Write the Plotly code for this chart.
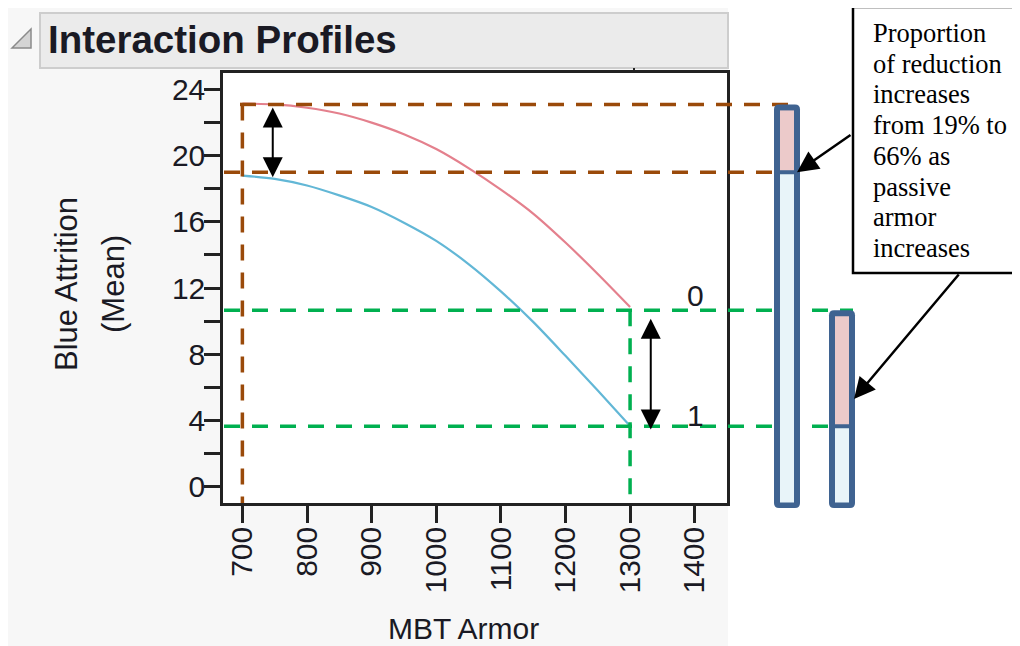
import plotly.graph_objects as go

# ---------------- data ----------------
armor = [700, 750, 800, 850, 900, 950, 1000, 1050, 1100, 1150, 1200, 1250, 1300]
attr_passive0 = [23.15, 23.1, 22.9, 22.55, 22.0, 21.3, 20.4, 19.25, 17.95, 16.5, 14.75, 12.85, 10.85]
attr_passive1 = [18.8, 18.6, 18.2, 17.6, 16.9, 15.95, 14.85, 13.45, 11.8, 9.95, 7.9, 5.8, 3.65]
series_labels = ["0", "1"]
label_pos_y = [11.55, 4.3]
label_pos_x = 1401

x_ticks = [700, 800, 900, 1000, 1100, 1200, 1300, 1400]
y_ticks = [0, 2, 4, 6, 8, 10, 12, 14, 16, 18, 20, 22, 24]
y_ticktext = [str(v) if v % 4 == 0 else "" for v in y_ticks]

brown_x = 700
brown_levels = [23.1, 19.0]
green_x = 1300
green_levels = [10.65, 3.64]

arrow_x = [747, 1332]
arrow_top = [22.92, 10.14]
arrow_bot = [18.6, 3.36]

callout_lines = ["Proportion", "of reduction", "increases", "from 19% to",
                 "66% as", "passive", "armor", "increases"]

title_text = "Interaction Profiles"
x_title = "MBT Armor"
y_title = ["Blue Attrition", "(Mean)"]

# ---------------- geometry helpers (reference pixel coords) ----------------
OFF = 8                      # page body margin offset
W, H = 1020, 646             # reference picture size
FW, FH = W - OFF, H - OFF    # figure size
L, R, T, B = 223, 727, 73, 503
YMIN, YMAX = -1, 25
XMIN, XMAX = 670, 1450
ppu_y = (B - T) / (YMAX - YMIN)


def px_x(p):
    return (p - L) / (R - L)


def px_y(p):
    return (B - p) / (B - T)


def py_data(p):
    return YMIN + (B - p) / ppu_y


SANS = "Liberation Sans, Arial, sans-serif"
SERIF = "Liberation Serif, Times New Roman, serif"
AXC = "#222222"
TXT = "#1a1a24"
BROWN = "#9a4a0a"
GREEN = "#00b050"
BARB = "#3f6391"

fig = go.Figure()
fig.add_trace(go.Scatter(x=armor, y=attr_passive0, mode="lines",
                         line=dict(color="#e4808d", width=2.2, shape="spline", smoothing=0.8),
                         name=series_labels[0], showlegend=False, hoverinfo="skip"))
fig.add_trace(go.Scatter(x=armor, y=attr_passive1, mode="lines",
                         line=dict(color="#62b7d6", width=2.2, shape="spline", smoothing=0.8),
                         name=series_labels[1], showlegend=False, hoverinfo="skip"))

shapes = []
# white area right of the gray panel
shapes.append(dict(type="rect", xref="paper", yref="paper", layer="below",
                   x0=px_x(728), x1=px_x(W + 4), y0=px_y(H + 4), y1=px_y(-4),
                   fillcolor="white", line=dict(width=0)))
# header bar
shapes.append(dict(type="rect", xref="paper", yref="paper", layer="below",
                   x0=px_x(40), x1=px_x(728), y0=px_y(68), y1=px_y(13),
                   fillcolor="#ebebeb", line=dict(color="#cdcdcd", width=2)))
# disclosure triangle
tri = "M {},{} L {},{} L {},{} Z".format(px_x(12), px_y(48), px_x(31), px_y(29), px_x(31), px_y(48))
shapes.append(dict(type="path", xref="paper", yref="paper", path=tri,
                   fillcolor="#d4d4d4", line=dict(color="#8a8a8a", width=1.5)))
# small tick on top frame
shapes.append(dict(type="line", xref="paper", yref="paper",
                   x0=px_x(634), x1=px_x(634), y0=px_y(73), y1=px_y(68),
                   line=dict(color=AXC, width=2)))

dash = "16px,12px"
# brown guide lines
shapes.append(dict(type="line", xref="paper", yref="y", x0=px_x(240), x1=px_x(797),
                   y0=brown_levels[0], y1=brown_levels[0], line=dict(color=BROWN, width=3.5, dash=dash)))
shapes.append(dict(type="line", xref="paper", yref="y", x0=px_x(224), x1=px_x(797),
                   y0=brown_levels[1], y1=brown_levels[1], line=dict(color=BROWN, width=3.5, dash=dash)))
shapes.append(dict(type="line", xref="x", yref="y", x0=brown_x, x1=brown_x,
                   y0=brown_levels[0], y1=YMIN, line=dict(color=BROWN, width=3.5, dash=dash)))
# green guide lines
for lv in green_levels:
    shapes.append(dict(type="line", xref="paper", yref="y", x0=px_x(224), x1=px_x(853),
                       y0=lv, y1=lv, line=dict(color=GREEN, width=3.5, dash=dash)))
shapes.append(dict(type="line", xref="x", yref="y", x0=green_x, x1=green_x,
                   y0=green_levels[0], y1=YMIN, line=dict(color=GREEN, width=3.5, dash=dash)))


def rounded(x0, x1, y0, y1, rx, ry, top=True, bottom=True):
    """Path for a rectangle (y0 bottom, y1 top) with optional rounded top/bottom corners."""
    parts = []
    if bottom:
        parts.append("M {},{} L {},{} Q {},{} {},{}".format(x0 + rx, y0, x1 - rx, y0, x1, y0, x1, y0 + ry))
    else:
        parts.append("M {},{} L {},{}".format(x0, y0, x1, y0))
    if top:
        parts.append("L {},{} Q {},{} {},{} L {},{} Q {},{} {},{}".format(
            x1, y1 - ry, x1, y1, x1 - rx, y1, x0 + rx, y1, x0, y1, x0, y1 - ry))
    else:
        parts.append("L {},{} L {},{}".format(x1, y1, x0, y1))
    if bottom:
        parts.append("L {},{} Q {},{} {},{} Z".format(x0, y0 + ry, x0, y0, x0 + rx, y0))
    else:
        parts.append("Z")
    return " ".join(parts)


bar_left_px = [774, 829]
bar_w = 26
border = 6
rad = 5
bar_bottom_px = 508
for (lvls, bx) in zip([brown_levels, green_levels], bar_left_px):
    top, split = lvls
    x0, x1 = px_x(bx), px_x(bx + bar_w)
    rx = rad / (R - L)
    # upper part (data referenced, rounded top)
    shapes.append(dict(type="path", xref="paper", yref="y",
                       path=rounded(x0, x1, YMIN - 1, top, rx, rad / ppu_y, top=True, bottom=False),
                       fillcolor=BARB, line=dict(width=0)))
    # bottom cap below the plot frame (paper referenced, rounded bottom)
    shapes.append(dict(type="path", xref="paper", yref="paper",
                       path=rounded(x0, x1, px_y(bar_bottom_px), px_y(495), rx, rad / (B - T),
                                    top=False, bottom=True),
                       fillcolor=BARB, line=dict(width=0)))
    ix0, ix1 = px_x(bx + border), px_x(bx + bar_w - border)
    shapes.append(dict(type="rect", xref="paper", yref="y", x0=ix0, x1=ix1,
                       y0=split + 2 / ppu_y, y1=top - border / ppu_y,
                       fillcolor="#eccaca", line=dict(width=0)))
    shapes.append(dict(type="rect", xref="paper", yref="y", x0=ix0, x1=ix1,
                       y0=py_data(bar_bottom_px - border + 0.5), y1=split - 2 / ppu_y,
                       fillcolor="#e8f4f9", line=dict(width=0)))

# callout box
shapes.append(dict(type="rect", xref="paper", yref="paper",
                   x0=px_x(853), x1=px_x(1018), y0=px_y(273), y1=px_y(7),
                   fillcolor="white", line=dict(color="black", width=2.5)))

annotations = []
annotations.append(dict(text=title_text, xref="paper", yref="paper", x=px_x(46), y=px_y(40),
                        xanchor="left", yanchor="middle", showarrow=False,
                        font=dict(family=SANS, size=38.5, color=TXT, weight="bold")))
annotations.append(dict(text=x_title, xref="paper", yref="paper", x=px_x(463), y=px_y(628),
                        xanchor="center", yanchor="middle", showarrow=False,
                        font=dict(family=SANS, size=30, color=TXT)))
for txt, cx in zip(y_title, [66, 113]):
    annotations.append(dict(text=txt, xref="paper", yref="paper", x=px_x(cx), y=px_y(284),
                            xanchor="center", yanchor="middle", showarrow=False, textangle=-90,
                            font=dict(family=SANS, size=31, color=TXT)))
for lab, ly in zip(series_labels, label_pos_y):
    annotations.append(dict(text=lab, xref="x", yref="y", x=label_pos_x, y=ly,
                            xanchor="center", yanchor="middle", showarrow=False,
                            font=dict(family=SANS, size=30, color=TXT)))
for i, line in enumerate(callout_lines):
    annotations.append(dict(text=line, xref="paper", yref="paper", x=px_x(871), y=px_y(33 + i * 30.7),
                            xanchor="left", yanchor="middle", showarrow=False,
                            font=dict(family=SERIF, size=26.5, color="black")))
# double arrows
for ax_, yt, yb in zip(arrow_x, arrow_top, arrow_bot):
    annotations.append(dict(text="", xref="x", yref="y", axref="x", ayref="y",
                            x=ax_, y=yt, ax=ax_, ay=yb, showarrow=True,
                            arrowhead=2, startarrowhead=2, arrowside="end+start",
                            arrowsize=2.0, startarrowsize=2.0, arrowwidth=2,
                            arrowcolor="black", standoff=0, startstandoff=0))
# callout arrows (tip at bar edge, tail at box)
callout_tips = [(797, brown_levels[1]), (854, py_data(399))]
callout_tails = [(852, 134), (960, 273)]
for (tx, ty), (sx, sy) in zip(callout_tips, callout_tails):
    tip_py = B - (ty - YMIN) * ppu_y
    annotations.append(dict(text="", xref="paper", yref="y", x=px_x(tx), y=ty,
                            ax=sx - tx, ay=sy - tip_py, showarrow=True,
                            arrowhead=2, arrowsize=1.7, arrowwidth=2.5,
                            arrowcolor="black", standoff=0))

fig.update_layout(
    width=FW, height=FH,
    margin=dict(l=L - OFF, r=FW - (R - OFF), t=T - OFF, b=FH - (B - OFF), pad=0),
    paper_bgcolor="#f7f7f7", plot_bgcolor="white",
    showlegend=False,
    shapes=shapes, annotations=annotations,
    xaxis=dict(range=[XMIN, XMAX], tickmode="array", tickvals=x_ticks,
               ticktext=[str(v) for v in x_ticks], tickangle=-90,
               ticks="outside", ticklen=17, tickwidth=2.5, tickcolor=AXC,
               ticklabelstandoff=-8,
               showline=True, linecolor=AXC, linewidth=2.5, mirror=True,
               showgrid=False, zeroline=False, automargin=False,
               tickfont=dict(family=SANS, size=30, color=TXT)),
    yaxis=dict(range=[YMIN, YMAX], tickmode="array", tickvals=y_ticks,
               ticktext=y_ticktext,
               ticks="outside", ticklen=16, tickwidth=2.5, tickcolor=AXC,
               ticklabelstandoff=-7,
               showline=True, linecolor=AXC, linewidth=2.5, mirror=True,
               showgrid=False, zeroline=False, automargin=False,
               tickfont=dict(family=SANS, size=30, color=TXT)),
)

fig.write_html("out.html")
